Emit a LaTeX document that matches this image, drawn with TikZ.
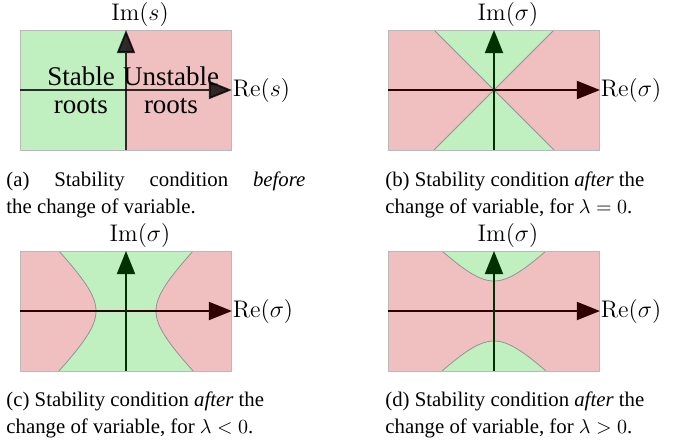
\documentclass[tikz,border=0pt]{standalone}
\usepackage[no-math]{fontspec}
\setmainfont{Liberation Serif}
\usepackage{tikz}
\usetikzlibrary{arrows.meta,positioning}
\definecolor{stablegreen}{RGB}{192,240,192}
\definecolor{unstablered}{RGB}{240,192,192}
\definecolor{reline}{RGB}{48,0,0}
\definecolor{imline}{RGB}{0,48,0}
\tikzset{
  region/.style={draw=gray!55, line width=0.5pt},
  stablezone/.style={fill=stablegreen},
  unstablezone/.style={fill=unstablered},
  boundary/.style={draw=gray!85, line width=0.4pt},
  reaxis/.style={-{Triangle[length=11.5pt,width=9pt]}, line width=0.9pt, draw=reline},
  imaxis/.style={-{Triangle[length=11.5pt,width=9pt]}, line width=0.9pt, draw=imline},
  axislabel/.style={font=\fontsize{13}{15}\selectfont, inner sep=1.5pt},
  zonelabel/.style={font=\fontsize{13.5}{14}\selectfont, align=center},
  subcaption/.style={font=\fontsize{10.4}{13.5}\selectfont, anchor=north west,
    inner sep=0pt, align=left}
}

\begin{document}
\begin{tikzpicture}[x=0.5pt,y=-0.5pt]
\useasboundingbox (0,0) rectangle (674,445);

% (a) before the change of variable
\begin{scope}[shift={(126,90)},x=15pt,y=15pt]
  \fill[stablezone] (-3.53,-2) rectangle (0,2);
  \fill[unstablezone] (0,-2) rectangle (3.53,2);
  \draw[region] (-3.53,-2) rectangle (3.53,2);
  \coordinate (aW) at (-3.53,0);
  \coordinate (aE) at (3.53,0);
  \coordinate (aS) at (0,-2);
  \coordinate (aN) at (0,2);
  \draw[reaxis, draw=black, opacity=.8] (aW) -- (aE);
  \draw[imaxis, draw=black, opacity=.8] (aS) -- (aN);
  \node[zonelabel] (stab) at (-1.5,0) {Stable\\roots};
  \node[zonelabel] (unstab) at (1.5,0) {Unstable\\roots};
  \node[axislabel, right=-1.2pt of aE] (are) {$\mathrm{Re}(s)$};
  \node[axislabel, above=0pt of aN, xshift=7pt] (aim) {$\mathrm{Im}(s)$};
\end{scope}

% (b) lambda = 0
\begin{scope}[shift={(494,90)},x=15pt,y=15pt]
  \fill[unstablezone] (-3.53,-2) rectangle (3.53,2);
  \fill[stablezone] (-2,2) -- (0,0) -- (2,2) -- cycle;
  \fill[stablezone] (-2,-2) -- (0,0) -- (2,-2) -- cycle;
  \draw[boundary] (-2,2) -- (2,-2) (-2,-2) -- (2,2);
  \draw[region] (-3.53,-2) rectangle (3.53,2);
  \coordinate (bW) at (-3.53,0);
  \coordinate (bE) at (3.53,0);
  \coordinate (bS) at (0,-2);
  \coordinate (bN) at (0,2);
  \draw[reaxis] (bW) -- (bE);
  \draw[imaxis] (bS) -- (bN);
  \node[axislabel, right=-1.2pt of bE] (bre) {$\mathrm{Re}(\sigma)$};
  \node[axislabel, above=0pt of bN, xshift=7pt] (bim) {$\mathrm{Im}(\sigma)$};
\end{scope}

% (c) lambda < 0
\begin{scope}[shift={(126,311)},x=15pt,y=15pt]
  \fill[stablezone] (-3.53,-2) rectangle (3.53,2);
  \fill[unstablezone] plot[variable=\t,domain=-2:2,samples=41,smooth]
    ({sqrt(1+\t*\t)},{\t}) -- (3.53,2) -- (3.53,-2) -- cycle;
  \fill[unstablezone] plot[variable=\t,domain=-2:2,samples=41,smooth]
    ({-sqrt(1+\t*\t)},{\t}) -- (-3.53,2) -- (-3.53,-2) -- cycle;
  \draw[boundary] plot[variable=\t,domain=-2:2,samples=41,smooth] ({sqrt(1+\t*\t)},{\t});
  \draw[boundary] plot[variable=\t,domain=-2:2,samples=41,smooth] ({-sqrt(1+\t*\t)},{\t});
  \draw[region] (-3.53,-2) rectangle (3.53,2);
  \coordinate (cW) at (-3.53,0);
  \coordinate (cE) at (3.53,0);
  \coordinate (cS) at (0,-2);
  \coordinate (cN) at (0,2);
  \draw[reaxis] (cW) -- (cE);
  \draw[imaxis] (cS) -- (cN);
  \node[axislabel, right=-1.2pt of cE] (cre) {$\mathrm{Re}(\sigma)$};
  \node[axislabel, above=0pt of cN, xshift=7pt] (cim) {$\mathrm{Im}(\sigma)$};
\end{scope}

% (d) lambda > 0
\begin{scope}[shift={(494,311)},x=15pt,y=15pt]
  \fill[unstablezone] (-3.53,-2) rectangle (3.53,2);
  \fill[stablezone] plot[variable=\t,domain=-1.732:1.732,samples=41,smooth]
    ({\t},{sqrt(1+\t*\t)}) -- cycle;
  \fill[stablezone] plot[variable=\t,domain=-1.732:1.732,samples=41,smooth]
    ({\t},{-sqrt(1+\t*\t)}) -- cycle;
  \draw[boundary] plot[variable=\t,domain=-1.732:1.732,samples=41,smooth] ({\t},{sqrt(1+\t*\t)});
  \draw[boundary] plot[variable=\t,domain=-1.732:1.732,samples=41,smooth] ({\t},{-sqrt(1+\t*\t)});
  \draw[region] (-3.53,-2) rectangle (3.53,2);
  \coordinate (dW) at (-3.53,0);
  \coordinate (dE) at (3.53,0);
  \coordinate (dS) at (0,-2);
  \coordinate (dN) at (0,2);
  \draw[reaxis] (dW) -- (dE);
  \draw[imaxis] (dS) -- (dN);
  \node[axislabel, right=-1.2pt of dE] (dre) {$\mathrm{Re}(\sigma)$};
  \node[axislabel, above=0pt of dN, xshift=7pt] (dim) {$\mathrm{Im}(\sigma)$};
\end{scope}

% sub-captions
\node[subcaption] (capa) at (6,167)
  {\strut\makebox[149.5pt][s]{(a) Stability condition \textit{before}}\\the change of variable.};
\node[subcaption] (capb) at (385,167)
  {\strut(b) Stability condition \textit{after} the\\change of variable, for $\lambda=0$.};
\node[subcaption] (capc) at (6,387)
  {\strut(c) Stability condition \textit{after} the\\change of variable, for $\lambda<0$.};
\node[subcaption] (capd) at (385,387)
  {\strut(d) Stability condition \textit{after} the\\change of variable, for $\lambda>0$.};

\end{tikzpicture}
\end{document}
